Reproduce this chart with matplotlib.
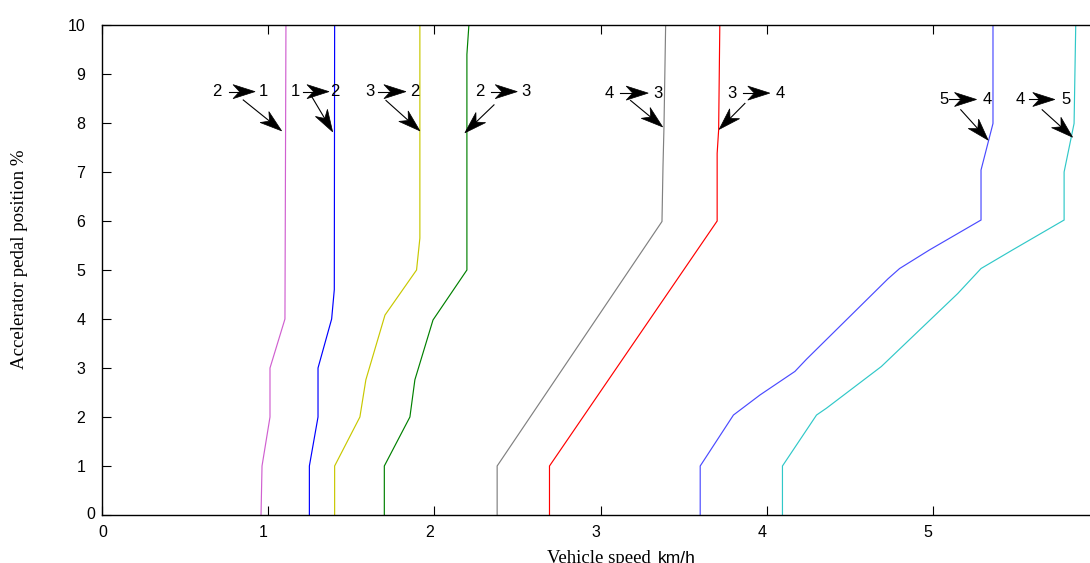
import numpy as np
import matplotlib
matplotlib.use("Agg")
import matplotlib.pyplot as plt
from matplotlib.patches import Polygon
from matplotlib.transforms import ScaledTranslation

# ---------------- data ----------------
# shift curves: vehicle speed (km/h) vs accelerator pedal position (%)
x_21 = [0.957, 0.963, 1.011, 1.011, 1.101, 1.107]
y_21 = [0, 1, 2, 3, 4, 10]

x_12 = [1.248, 1.248, 1.300, 1.300, 1.382, 1.398, 1.400]
y_12 = [0, 1, 2, 3, 4, 4.6, 10]

x_32 = [1.400, 1.400, 1.552, 1.588, 1.703, 1.893, 1.913, 1.913]
y_32 = [0, 1, 2, 2.76, 4.08, 5.0, 5.65, 10]

x_23 = [1.699, 1.699, 1.853, 1.883, 1.992, 2.196, 2.196, 2.208]
y_23 = [0, 1, 2, 2.76, 3.98, 5.0, 9.4, 10]

x_43 = [2.378, 2.378, 3.370, 3.376, 3.382, 3.392]
y_43 = [0, 1, 5.99, 7.1, 7.92, 10]

x_34 = [2.693, 2.693, 3.702, 3.702, 3.711, 3.718]
y_34 = [0, 1, 6.0, 7.38, 7.86, 10]

x_54 = [3.600, 3.600, 3.800, 3.960, 4.170, 4.240, 4.730, 4.800, 4.980, 5.290, 5.290, 5.362, 5.362]
y_54 = [0, 1, 2.04, 2.45, 2.93, 3.18, 4.82, 5.03, 5.41, 6.02, 7.04, 7.99, 10]

x_45 = [4.095, 4.095, 4.300, 4.360, 4.690, 5.150, 5.290, 5.480, 5.790, 5.790, 5.850, 5.860]
y_45 = [0, 1, 2.04, 2.18, 3.03, 4.52, 5.03, 5.41, 6.02, 7.0, 7.99, 10]

curves = [
    (x_21, y_21, "#d060d0"),
    (x_12, y_12, "#0000ff"),
    (x_32, y_32, "#c8c800"),
    (x_23, y_23, "#008000"),
    (x_43, y_43, "#808080"),
    (x_34, y_34, "#ff0000"),
    (x_54, y_54, "#4a4aff"),
    (x_45, y_45, "#30c8c8"),
]

# annotation labels: from gear, to gear
ann_from = ["2", "1", "3", "2", "4", "3", "5", "4"]
ann_to = ["1", "2", "2", "3", "3", "4", "4", "5"]
# text positions (x of "from", x of "to", y)
ann_from_x = [0.692, 1.161, 1.613, 2.274, 3.052, 3.789, 5.066, 5.528]
ann_to_x = [0.970, 1.402, 1.883, 2.551, 3.347, 4.079, 5.327, 5.804]
ann_y = [8.64, 8.64, 8.64, 8.64, 8.61, 8.61, 8.48, 8.48]
# horizontal arrow between labels
harr_x0 = [0.764, 1.209, 1.661, 2.339, 3.117, 3.859, 5.098, 5.579]
harr_x1 = [0.921, 1.366, 1.829, 2.499, 3.287, 4.019, 5.263, 5.734]
# pointer arrow to the curve
parr_x0 = [0.850, 1.262, 1.709, 2.359, 3.181, 3.869, 5.168, 5.658]
parr_y0 = [8.47, 8.54, 8.46, 8.37, 8.46, 8.40, 8.27, 8.27]
parr_x1 = [1.081, 1.388, 1.913, 2.184, 3.374, 3.714, 5.333, 5.841]
parr_y1 = [7.84, 7.82, 7.84, 7.80, 7.92, 7.87, 7.65, 7.71]

x_ticks = [0, 1, 2, 3, 4, 5, 6]
y_ticks = [0, 1, 2, 3, 4, 5, 6, 7, 8, 9, 10]

# ---------------- figure ----------------
W, H = 1090, 563
fig = plt.figure(figsize=(W / 100, H / 100), dpi=100)
ax = fig.add_axes([102 / W, (H - 515) / H, 997 / W, 490 / H])
ax.set_xlim(0, 6)
ax.set_ylim(0, 10)

for xs, ys, c in curves:
    ax.plot(xs, ys, color=c, lw=0.85, solid_joinstyle="miter")

sans = "Liberation Sans"
serif = "Liberation Serif"

ax.set_xticks(x_ticks)
ax.set_yticks(y_ticks)
ax.set_xticklabels([str(v) for v in x_ticks], fontfamily=sans, fontsize=11.5)
ax.set_yticklabels([str(v) for v in y_ticks], fontfamily=sans, fontsize=11.5)
ax.tick_params(direction="in", length=6.5, width=0.8, top=True, right=True)
ax.tick_params(axis="y", pad=12)
ax.tick_params(axis="x", pad=7)
for s in ax.spines.values():
    s.set_linewidth(1.0)

# label offsets seen in the reference
for i, lab in enumerate(ax.get_xticklabels()):
    dx = 1 if i == 0 else -5
    lab.set_transform(lab.get_transform() + ScaledTranslation(dx / 100, 0, fig.dpi_scale_trans))
lab0 = ax.get_yticklabels()[0]
lab0.set_transform(lab0.get_transform() + ScaledTranslation(10 / 100, 2 / 100, fig.dpi_scale_trans))

# axis labels
fig.text(546.7 / W, 0 / H, "Vehicle speed", fontfamily=serif, fontsize=13.5, ha="left", va="baseline")
fig.text(657.5 / W, 0 / H, "km/h", fontfamily=sans, fontsize=12.5, ha="left", va="baseline")
fig.text(20 / W, (H - 259) / H, "Accelerator pedal position %", fontfamily=serif, fontsize=13.6,
         rotation=90, ha="center", va="center")


def stealth_arrow(x0, y0, x1, y1, L=22, Wd=14, notch=6.5):
    t = ax.transData
    p0 = t.transform((x0, y0))
    p1 = t.transform((x1, y1))
    d = p1 - p0
    u = d / np.hypot(*d)
    n = np.array([-u[1], u[0]])
    back = p1 - L * u
    pts = np.array([p1, back + n * Wd / 2, p1 - (L - notch) * u, back - n * Wd / 2])
    data_pts = t.inverted().transform(pts)
    shaft_end = t.inverted().transform(p1 - (L - notch) * u)
    ax.plot([x0, shaft_end[0]], [y0, shaft_end[1]], color="black", lw=0.8, clip_on=False)
    ax.add_patch(Polygon(data_pts, closed=True, facecolor="black", edgecolor="black",
                         lw=0.5, clip_on=False, zorder=5))


for i in range(len(ann_from)):
    ax.text(ann_from_x[i], ann_y[i], ann_from[i], fontfamily=sans, fontsize=12,
            ha="center", va="center")
    ax.text(ann_to_x[i], ann_y[i], ann_to[i], fontfamily=sans, fontsize=12,
            ha="center", va="center")
    stealth_arrow(harr_x0[i], ann_y[i], harr_x1[i], ann_y[i])
    stealth_arrow(parr_x0[i], parr_y0[i], parr_x1[i], parr_y1[i])

fig.savefig("out.png", dpi=100)
